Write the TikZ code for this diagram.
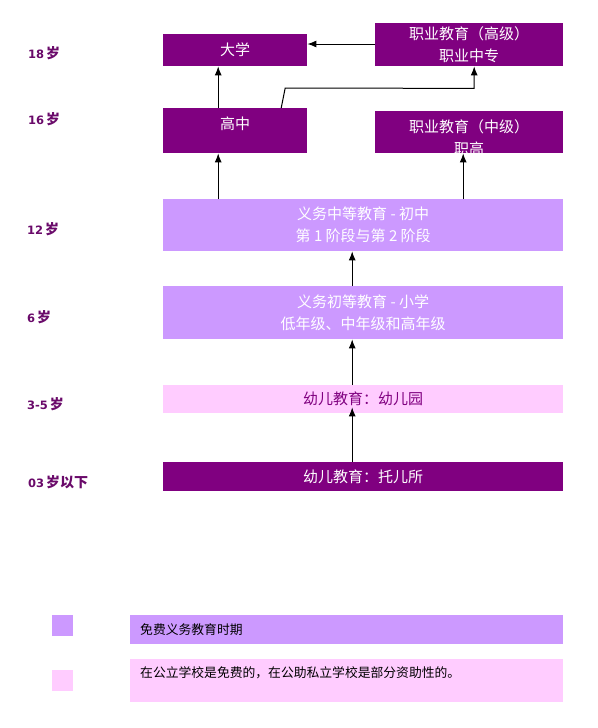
\documentclass[tikz,border=0pt]{standalone}
\usepackage{fontspec}
\setmainfont{Noto Sans CJK SC}
\newfontfamily\agedigits{DejaVu Sans}
\usetikzlibrary{arrows.meta}
\definecolor{dpurple}{HTML}{800080}
\definecolor{lpurple}{HTML}{CC99FF}
\definecolor{lpink}{HTML}{FFCCFF}
\definecolor{agecol}{HTML}{6A0A6A}
\newcommand{\dg}[1]{{\agedigits\fontsize{11.5}{13}\selectfont #1}\hspace{2pt}}
\tikzset{
  box/.style={anchor=north west, inner sep=0pt, align=center, font=\fontsize{15}{22}\selectfont},
  darkbox/.style={box, fill=dpurple, text=white},
  lightbox/.style={box, fill=lpurple, text=white},
  pinkbox/.style={box, fill=lpink, text=dpurple},
  age/.style={anchor=west, inner sep=0pt, text=agecol, font=\bfseries\fontsize{14}{16}\selectfont},
  arr/.style={draw=black, line width=1pt, -{Latex[length=9pt,width=7pt]}},
  legendtext/.style={anchor=west, inner sep=0pt, text=black, font=\fontsize{12.8}{15}\selectfont},
}
\begin{document}
\begin{tikzpicture}[x=1pt,y=-1pt]
\useasboundingbox (0,0) rectangle (597,728);
\fill[white] (0,0) rectangle (597,728);
% age labels
\node[age] (a18) at (28,53) {\dg{18}岁};
\node[age] (a16) at (28,119) {\dg{16}岁};
\node[age] (a12) at (27,229) {\dg{12}岁};
\node[age] (a6) at (27,317) {\dg{6}岁};
\node[age] (a35) at (27,404) {\dg{3-5}岁};
\node[age] (a03) at (28,482) {\dg{03}岁以下};
% boxes
\node[darkbox, minimum width=144pt, minimum height=32pt] (dx) at (163,34) {大学};
\node[darkbox, minimum width=188pt, minimum height=43pt] (zg) at (375,23) {职业教育（高级）\\职业中专};
\node[darkbox, minimum width=144pt, minimum height=45pt, text depth=15pt] (gz) at (163,108) {高中};
\node[darkbox, minimum width=188pt, minimum height=42pt,
  path picture={\node[anchor=center, minimum width=0pt, minimum height=0pt, inner sep=0pt, text=white, align=center, font=\fontsize{15}{22}\selectfont] at ([yshift=-5pt]path picture bounding box.center) {职业教育（中级）\\职高};}] (zz) at (375,111) {};
\node[lightbox, minimum width=400pt, minimum height=52pt] (cz) at (163,199) {义务中等教育 - 初中\\第 1 阶段与第 2 阶段};
\node[lightbox, minimum width=400pt, minimum height=53pt] (xx) at (163,286) {义务初等教育 - 小学\\低年级、中年级和高年级};
\node[pinkbox, minimum width=400pt, minimum height=28pt] (yey) at (163,385) {幼儿教育：幼儿园};
\node[darkbox, minimum width=400pt, minimum height=29pt] (tes) at (163,462) {幼儿教育：托儿所};
% connectors
\draw[arr] ([xshift=-17pt]gz.north) -- ([xshift=-17pt]dx.south);
\draw[arr] (zg.west |- 0,44) -- (dx.east |- 0,44);
\draw[arr] ([xshift=46pt]gz.north) -- ([xshift=50pt,yshift=20pt]gz.north) -- ([xshift=5pt,yshift=-22pt]zg.south) -- ([xshift=5pt]zg.south);
\draw[arr] ([xshift=-145pt]cz.north) -- ([xshift=-17pt]gz.south);
\draw[arr] ([xshift=100pt]cz.north) -- ([xshift=-6pt]zz.south);
\draw[arr] ([xshift=-11pt]xx.north) -- ([xshift=-11pt]cz.south);
\draw[arr] ([xshift=-11pt]yey.north) -- ([xshift=-11pt]xx.south);
\draw[arr, shorten >=-6pt] ([xshift=-11pt]tes.north) -- ([xshift=-11pt]yey.south);
% legend
\node[box, fill=lpurple, minimum width=21pt, minimum height=21pt] (sq1) at (52,615) {};
\node[box, fill=lpurple, minimum width=433pt, minimum height=29pt] (lg1) at (130,615) {};
\node[legendtext] (lt1) at (140,630) {免费义务教育时期};
\node[box, fill=lpink, minimum width=21pt, minimum height=21pt] (sq2) at (52,670) {};
\node[box, fill=lpink, minimum width=433pt, minimum height=43pt] (lg2) at (130,659) {};
\node[legendtext] (lt2) at (140,673) {在公立学校是免费的，在公助私立学校是部分资助性的。};
\end{tikzpicture}
\end{document}
